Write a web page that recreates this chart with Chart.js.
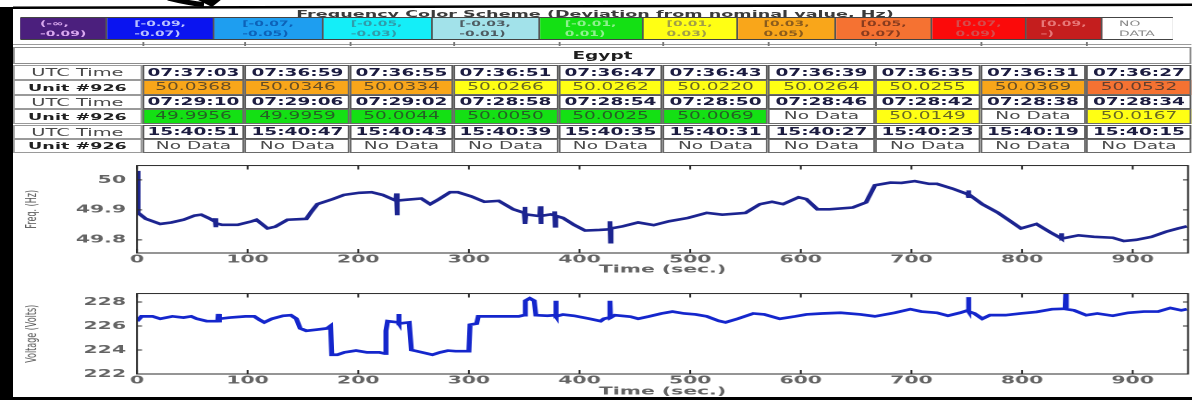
<!DOCTYPE html>
<html>
<head>
<meta charset="utf-8">
<script src="https://cdn.jsdelivr.net/npm/chart.js@4.4.0/dist/chart.umd.min.js"></script>
<style>
  html, body { margin: 0; padding: 0; background: #fff; width: 1192px; height: 400px; overflow: hidden; }
  #stage { position: absolute; left: 0; top: 0; height: 400px; transform-origin: 0 0; }
  .box { position: absolute; box-sizing: border-box; display: flex; align-items: center; justify-content: center;
         white-space: nowrap; font-family: "DejaVu Sans", Verdana, sans-serif; line-height: 1; }
  canvas { position: absolute; left: 0; }
  #frame { position: absolute; left: 0; top: 0; width: 1192px; height: 400px; pointer-events: none; }
</style>
</head>
<body>
<div id="stage"></div>
<svg id="frame" width="1192" height="400" viewBox="0 0 1192 400">
  <path d="M168 -2 C180 1 192 3.5 204 4.5" stroke="#000" stroke-width="5" fill="none"/>
  <path d="M196 -1 L222 -1 L212 7 Z" fill="#000"/>
  <polygon points="13,6.5 1192,3.5 1192,6 13,9" fill="#000"/>
  <rect x="0" y="7" width="13" height="393" fill="#000"/>
  <rect x="0" y="397" width="1192" height="3" fill="#000"/>
</svg>

<script>
// ---------- data ----------
const legendLabels = [
  ['(-\u221e,', '-0.09)'], ['[-0.09,', '-0.07)'], ['[-0.07,', '-0.05)'], ['[-0.05,', '-0.03)'],
  ['[-0.03,', '-0.01)'], ['[-0.01,', '0.01)'], ['[0.01,', '0.03)'], ['[0.03,', '0.05)'],
  ['[0.05,', '0.07)'], ['[0.07,', '0.09)'], ['[0.09,', '\u2013)'], ['NO', 'DATA']
];
const binEdges = [-0.09, -0.07, -0.05, -0.03, -0.01, 0.01, 0.03, 0.05, 0.07, 0.09];
const nominalHz = 50;
const siteName = 'Egypt';
const unitName = 'Unit #926';

const utcRow1 = ['07:37:03', '07:36:59', '07:36:55', '07:36:51', '07:36:47', '07:36:43', '07:36:39', '07:36:35', '07:36:31', '07:36:27'];
const hzRow1  = [50.0368, 50.0346, 50.0334, 50.0266, 50.0262, 50.0220, 50.0264, 50.0255, 50.0369, 50.0532];
const utcRow2 = ['07:29:10', '07:29:06', '07:29:02', '07:28:58', '07:28:54', '07:28:50', '07:28:46', '07:28:42', '07:28:38', '07:28:34'];
const hzRow2  = [49.9956, 49.9959, 50.0044, 50.0050, 50.0025, 50.0069, null, 50.0149, null, 50.0167];
const utcRow3 = ['15:40:51', '15:40:47', '15:40:43', '15:40:39', '15:40:35', '15:40:31', '15:40:27', '15:40:23', '15:40:19', '15:40:15'];
const hzRow3  = [null, null, null, null, null, null, null, null, null, null];

const timeTicks = [0, 100, 200, 300, 400, 500, 600, 700, 800, 900];
const freqTicks = [49.8, 49.9, 50];
const voltTicks = [222, 224, 226, 228];

const freqTime = [0, 1, 8, 21, 31, 42, 52, 58, 65, 70, 70.5, 71, 71.5, 77, 91, 104, 108, 118, 125, 136, 153, 158, 163, 177, 187,
  201, 212, 222, 234, 234.5, 235, 235.5, 244, 257, 265, 273, 283, 290, 302, 314, 327, 340, 350, 350.5, 351, 351.5,
  364, 364.5, 365, 365.5, 374, 377, 377.5, 378, 378.5, 385, 395, 405, 418, 427, 427.5, 428, 428.5, 439, 453, 467,
  481, 498, 515, 529, 550, 563, 574, 584, 598, 605, 615, 626, 647, 659, 667, 681, 691, 703, 716, 723, 737, 751,
  751.5, 752, 752.5, 764, 778, 788, 799, 813, 826, 835, 835.5, 836, 851, 865, 882, 892, 903, 917, 930, 941, 949];
const freqHz = [50.03, 49.89, 49.870, 49.853, 49.858, 49.867, 49.881, 49.884, 49.872, 49.862, 49.872, 49.842, 49.855, 49.850,
  49.850, 49.862, 49.867, 49.838, 49.844, 49.867, 49.870, 49.896, 49.919, 49.936, 49.950, 49.957, 49.959, 49.950,
  49.931, 49.955, 49.882, 49.931, 49.934, 49.938, 49.919, 49.936, 49.959, 49.959, 49.945, 49.927, 49.930, 49.902,
  49.890, 49.910, 49.853, 49.885, 49.879, 49.912, 49.853, 49.880, 49.885, 49.882, 49.895, 49.845, 49.880, 49.873,
  49.850, 49.831, 49.833, 49.835, 49.862, 49.792, 49.838, 49.845, 49.858, 49.849, 49.862, 49.873, 49.890, 49.884,
  49.890, 49.919, 49.927, 49.919, 49.942, 49.936, 49.902, 49.902, 49.908, 49.925, 49.982, 49.991, 49.990, 49.996,
  49.987, 49.987, 49.971, 49.952, 49.965, 49.940, 49.950, 49.919, 49.891, 49.866, 49.838, 49.853, 49.824, 49.806,
  49.822, 49.804, 49.815, 49.810, 49.807, 49.796, 49.800, 49.810, 49.827, 49.838, 49.845];

const voltTime = [0, 4, 14, 21, 32, 42, 49, 54, 63, 73, 73.5, 74, 75, 84, 98, 106, 111, 115, 122, 132, 139, 144, 147.5, 153,
  163, 172, 175, 176, 181, 187.5, 198, 208, 219, 224, 225, 226.5, 236, 236.5, 237, 246, 248, 253, 267, 274, 281, 288,
  300, 301, 307, 308.5, 317, 329, 345, 350, 351, 355, 359, 360.5, 371, 378, 378.5, 379, 385, 395, 409, 419, 422, 427,
  427.5, 428, 432, 446, 453, 463, 474, 484, 494.5, 505, 515, 526, 532, 543, 557, 567, 581, 595, 605, 619, 636, 654,
  667, 685, 699, 709, 723, 733, 744, 751, 751.5, 752, 757, 764, 771, 785, 799, 813, 827, 839, 839.5, 840, 847, 858,
  868, 882, 896, 910, 923, 934, 944, 949];
const voltVolts = [226.4, 226.8, 226.8, 226.6, 226.8, 226.7, 226.8, 226.6, 226.4, 226.4, 227.0, 226.3, 226.6, 226.7, 226.8,
  226.8, 226.5, 226.3, 226.6, 226.85, 226.9, 226.6, 225.8, 225.6, 225.7, 225.8, 226.0, 223.6, 223.6, 223.8, 223.95,
  223.8, 223.8, 223.7, 225.6, 226.4, 226.3, 227.0, 226.2, 226.3, 224.0, 223.9, 223.6, 223.8, 223.95, 223.9, 223.9,
  226.1, 226.2, 226.8, 226.8, 226.8, 226.8, 226.9, 228.1, 228.3, 228.1, 226.9, 226.85, 226.9, 228.1, 226.8, 226.95,
  226.85, 226.6, 226.4, 226.6, 226.7, 228.1, 226.7, 226.9, 226.77, 226.6, 226.8, 227.04, 227.2, 227.04, 226.96, 226.8,
  226.42, 226.3, 226.6, 227.04, 226.96, 226.6, 226.8, 226.96, 227.04, 227.1, 226.96, 226.8, 227.1, 227.4, 227.2,
  227.1, 226.85, 227.1, 227.3, 228.4, 227.2, 227.04, 226.6, 226.9, 226.9, 227.04, 227.17, 227.4, 227.44, 228.7,
  227.4, 227.3, 226.9, 227.04, 226.85, 227.1, 227.2, 227.2, 227.5, 227.3, 227.4];

// ---------- look ----------
const S = 1.85;                 // the sheet is drawn narrow and stretched sideways by this factor
const bx = v => v / S;          // sheet x -> unstretched layout x
const WB = Math.ceil(1192 / S);

const binColors = ['#4b1f7d', '#0a14f0', '#1e9ef0', '#14eef8', '#a2e2ea', '#14e014', '#ffff14', '#f9a61a',
                   '#f57232', '#fb0a0a', '#c41e1e', '#ffffff'];
const binText   = ['#d9a9ef', '#b9c2ff', '#0d62b8', '#2f9dac', '#4e5c62', '#8ff08f', '#a3a046', '#8c5c1c',
                   '#8a3c1e', '#d54c4c', '#e77878', '#8a8a8a'];

const stage = document.getElementById('stage');
stage.style.width = WB + 'px';
stage.style.transform = 'scaleX(' + S + ')';

function box(x0, y0, x1, y1, css, html) {
  const d = document.createElement('div');
  d.className = 'box';
  d.style.left = bx(x0) + 'px';
  d.style.top = y0 + 'px';
  d.style.width = bx(x1 - x0) + 'px';
  d.style.height = (y1 - y0) + 'px';
  Object.assign(d.style, css || {});
  if (html !== undefined) d.innerHTML = html;
  stage.appendChild(d);
  return d;
}

function binIndex(v) {
  if (v === null) return binColors.length - 1;
  const dev = v - nominalHz;
  let i = 0;
  while (i < binEdges.length && dev >= binEdges[i]) i++;
  return i;
}

// legend title and colour key
box(250, 10, 940, 18, { fontSize: '9.5px', fontWeight: 'bold', color: '#3a3a3a' },
    'Frequency Color Scheme (Deviation from nominal value, Hz)');
const keyEdges = [21, 107, 215, 323, 432, 540, 643, 738, 837, 932, 1027, 1102, 1172];
box(keyEdges[0] - 1, 17, keyEdges[keyEdges.length - 1] + 1, 40, { border: '1.5px solid #444' });
legendLabels.forEach((lab, i) => {
  box(keyEdges[i], 18, keyEdges[i + 1], 39, {
    background: binColors[i], color: binText[i], fontSize: '7.5px', fontWeight: i === 11 ? 'normal' : 'bold',
    flexDirection: 'column', lineHeight: '10px', borderRight: i < 11 ? '1px solid #555' : 'none'
  }, lab[0] + '<br>' + lab[1]);
});

// readings table
const colEdges = [142, 245, 350, 453, 558, 663, 768, 875, 980, 1086, 1192];
const labelX = [13, 142];
box(13, 44, 1192, 46, { borderTop: '1px solid #9a9a9a' });
colEdges.slice(0, -1).forEach(x => box(x, 42, x + 1, 46, { background: '#777' }));
box(13, 47, 1192, 64, { border: '1px solid #8c8c8c', fontSize: '10px', fontWeight: 'bold', color: '#1e1e1e' }, siteName);

const rowBands = [[65, 80], [80, 94.5], [94.5, 109], [109, 123.5], [125, 139], [139, 153]];
const tableRows = [[utcRow1, hzRow1], [utcRow2, hzRow2], [utcRow3, hzRow3]];
tableRows.forEach(([times, vals], r) => {
  const tb = rowBands[2 * r], vb = rowBands[2 * r + 1];
  box(labelX[0], tb[0], labelX[1], tb[1], { border: '1px solid #9a9a9a', fontSize: '10.5px', color: '#4a4a4a' }, 'UTC Time');
  box(labelX[0], vb[0], labelX[1], vb[1], { border: '1px solid #9a9a9a', fontSize: '9.5px', fontWeight: 'bold', color: '#202020' }, unitName);
  times.forEach((t, c) => {
    box(colEdges[c], tb[0], colEdges[c + 1], tb[1], { border: '1px solid #5a5a5a', fontSize: '10px', fontWeight: 'bold', color: '#1c1c40' }, t);
    const v = vals[c];
    const bi = binIndex(v);
    box(colEdges[c], vb[0], colEdges[c + 1], vb[1], {
      border: '1px solid #6a6a6a', background: binColors[bi], fontSize: '10px',
      color: v === null ? '#4a4a4a' : 'rgba(45,45,45,0.72)'
    }, v === null ? 'No Data' : v.toFixed(4));
  });
});

// ---------- charts ----------
const frameTicks = {
  id: 'frameTicks',
  afterDraw(chart) {
    const { ctx, chartArea: a, scales: { x, y } } = chart;
    ctx.save();
    ctx.strokeStyle = '#2a2a2a';
    ctx.lineWidth = 1;
    ctx.strokeRect(a.left, a.top, a.right - a.left, a.bottom - a.top);
    ctx.beginPath();
    x.ticks.forEach(t => {
      const px = x.getPixelForValue(t.value);
      ctx.moveTo(px, a.bottom); ctx.lineTo(px, a.bottom - 4);
      ctx.moveTo(px, a.top); ctx.lineTo(px, a.top + 4);
    });
    y.ticks.forEach(t => {
      const py = y.getPixelForValue(t.value);
      ctx.moveTo(a.left, py); ctx.lineTo(a.left + 5 / S, py);
      ctx.moveTo(a.right, py); ctx.lineTo(a.right - 5 / S, py);
    });
    ctx.stroke();
    ctx.restore();
  }
};

// g: canvas top, plot top, plot bottom, canvas bottom (sheet y)
function drawTrace(id, g, times, values, yMin, yMax, yTicks, yTitle, color, lw) {
  const H = g[3] - g[0];
  const cv = document.createElement('canvas');
  cv.id = id;
  cv.width = WB; cv.height = H;
  cv.style.top = g[0] + 'px';
  cv.style.width = WB + 'px'; cv.style.height = H + 'px';
  stage.appendChild(cv);
  const tickFont = { family: '"DejaVu Sans", Verdana, sans-serif', size: 11, weight: 'bold' };
  return new Chart(cv, {
    type: 'line',
    data: { datasets: [{
      data: times.map((t, i) => ({ x: t, y: values[i] })),
      borderColor: color, borderWidth: lw, pointRadius: 0, tension: 0, fill: false
    }] },
    options: {
      responsive: false, animation: false, devicePixelRatio: 2,
      layout: { padding: { left: 0, right: WB - bx(1188), top: g[1] - g[0], bottom: 0 } },
      plugins: { legend: { display: false }, tooltip: { enabled: false } },
      scales: {
        x: {
          type: 'linear', min: 0, max: 950,
          afterBuildTicks: s => { s.ticks = timeTicks.map(v => ({ value: v })); },
          afterFit: s => { s.height = g[3] - g[2]; },
          grid: { display: false, drawTicks: false }, border: { display: false },
          ticks: { padding: 0, color: '#646464', font: tickFont, maxRotation: 0, callback: v => String(v) },
          title: { display: true, text: 'Time (sec.)', color: '#646464', padding: { top: 0, bottom: 0 }, font: tickFont }
        },
        y: {
          min: yMin, max: yMax,
          afterBuildTicks: s => { s.ticks = yTicks.map(v => ({ value: v })); },
          afterFit: s => { s.width = bx(137); },
          grid: { display: false, drawTicks: false }, border: { display: false },
          ticks: { padding: bx(11), color: '#646464', font: tickFont, callback: v => String(v) },
          title: { display: true, text: yTitle, color: '#555', padding: { top: bx(32) - 4.8, bottom: 0 },
                   font: { family: '"DejaVu Sans", sans-serif', size: 8 } }
        }
      }
    },
    plugins: [frameTicks]
  });
}

drawTrace('freqChart', [153, 161, 253, 276], freqTime, freqHz, 49.756, 50.048, freqTicks, 'Freq. (Hz)', '#1c2490', 2.6);
drawTrace('voltChart', [281, 289, 374, 398], voltTime, voltVolts, 222, 228.7, voltTicks, 'Voltage (Volts)', '#1426cc', 2.7);
</script>
</body>
</html>
